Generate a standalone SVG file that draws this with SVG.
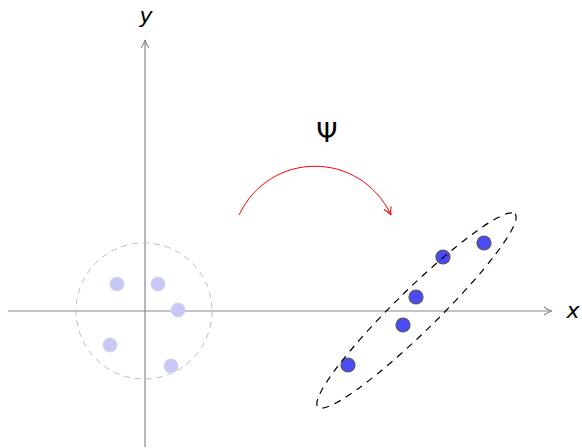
<svg xmlns="http://www.w3.org/2000/svg" width="582" height="448" viewBox="0 0 582 448">
<style>
.axis{stroke:#888;stroke-width:1.2;fill:none}
.lbl{font-family:"DejaVu Sans",sans-serif;font-size:22px;fill:#000}
.pl{fill:#c8c8f6;stroke:#d4d4e6;stroke-width:1}
.pd{fill:#4b4bf5;stroke:#555;stroke-width:1.2}
</style>
<defs>
<marker id="ag" markerWidth="12" markerHeight="10" refX="9" refY="5" orient="auto" markerUnits="userSpaceOnUse">
<path d="M1,1 Q5,4 9,5 Q5,6 1,9" fill="none" stroke="#888" stroke-width="1.1"/>
</marker>
<marker id="ar" markerWidth="12" markerHeight="10" refX="9" refY="5" orient="auto" markerUnits="userSpaceOnUse">
<path d="M1,1 Q5,4 9,5 Q5,6 1,9" fill="none" stroke="#f00" stroke-width="1"/>
</marker>
</defs>
<g id="axes">
<line class="axis" x1="8" y1="311" x2="552" y2="311" marker-end="url(#ag)"/>
<line class="axis" x1="145" y1="447" x2="145" y2="40" marker-end="url(#ag)"/>
<text class="lbl" x="573" y="318" text-anchor="middle" font-style="italic">x</text>
<text class="lbl" x="146" y="23" text-anchor="middle" font-style="italic">y</text>
</g>
<g id="source">
<circle cx="144" cy="311" r="68" fill="none" stroke="#bbb" stroke-width="1" stroke-dasharray="6,5"/>
<circle class="pl" cx="117" cy="284" r="7"/>
<circle class="pl" cx="158" cy="284" r="7"/>
<circle class="pl" cx="178" cy="310" r="7"/>
<circle class="pl" cx="110" cy="345" r="7"/>
<circle class="pl" cx="171" cy="366" r="7"/>
</g>
<g id="connectors">
<path d="M239,215 C270,150 360,150 391,215" fill="none" stroke="#f00" stroke-width="1" marker-end="url(#ar)"/>
<text class="lbl" x="327" y="142" text-anchor="middle" style="font-size:27px">Ψ</text>
</g>
<g id="target">
<circle class="pd" cx="348" cy="365" r="7"/>
<circle class="pd" cx="403" cy="325" r="7"/>
<circle class="pd" cx="416" cy="297" r="7"/>
<circle class="pd" cx="443" cy="257" r="7"/>
<circle class="pd" cx="484" cy="243" r="7"/>
<ellipse cx="416.5" cy="310.5" rx="138" ry="21" transform="rotate(-44.4 416.5 310.5)" fill="none" stroke="#000" stroke-width="1.2" stroke-dasharray="7,6"/>
</g>
</svg>
